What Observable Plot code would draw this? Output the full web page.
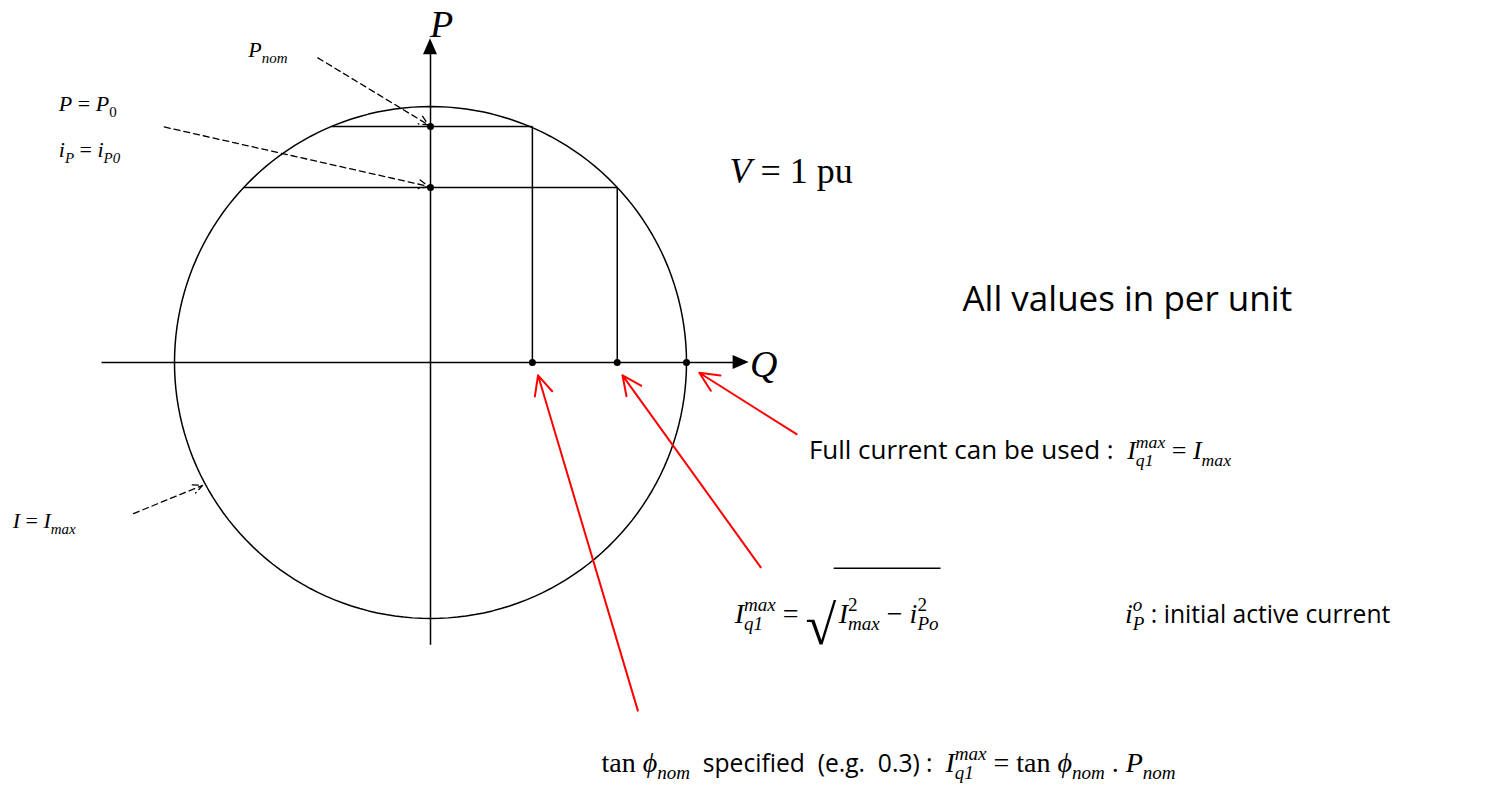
<!DOCTYPE html>
<html><head><meta charset="utf-8">
<script src="https://cdn.jsdelivr.net/npm/d3@7"></script>
<script src="https://cdn.jsdelivr.net/npm/@observablehq/plot@0.6"></script>
<style>body{margin:0;background:#fff}</style>
</head><body>
<script>
// values in per unit (Imax = 1)
const Pnom = 0.922, P0 = 0.684;
const Qnom = 0.398;            // tan phi_nom * Pnom
const Q0 = Math.sqrt(1 - P0*P0); // sqrt(Imax^2 - iP0^2)
const Imax = 1;
const circleAngles = d3.range(0, 361, 2);
const dots = [[0,Pnom],[0,P0],[Qnom,0],[Q0,0],[Imax,0]];
// label anchor points (data units)
const dashArrows = [[-0.44,1.19,-0.008,0.928],[-1.04,0.92,-0.008,0.688],[-1.16,-0.59,-0.89,-0.48]];
const redArrows = [[1.43,-0.28,1.05,-0.04],[1.29,-0.80,0.75,-0.05],[0.81,-1.36,0.42,-0.05]];
const S = 256;
const x0 = 430, y0 = 362;
const plot = Plot.plot({
  width:1490, height:803, margin:0,
  x:{domain:[-x0/S,(1490-x0)/S], axis:null},
  y:{domain:[-(803-y0)/S, y0/S], axis:null},
  marks:[
    Plot.line(circleAngles,{x:a=>Imax*Math.cos(a*Math.PI/180), y:a=>Imax*Math.sin(a*Math.PI/180), stroke:"black", strokeWidth:1.5}),
    Plot.link([[-1.285,0,1.19,0],[0,-1.103,0,1.21]],{x1:d=>d[0],y1:d=>d[1],x2:d=>d[2],y2:d=>d[3],stroke:"black",strokeWidth:1.5}),
    Plot.link([[-Math.sqrt(1-Pnom*Pnom),Pnom,Qnom,Pnom],[Qnom,Pnom,Qnom,0],[-Q0,P0,Q0,P0],[Q0,P0,Q0,0]],
      {x1:d=>d[0],y1:d=>d[1],x2:d=>d[2],y2:d=>d[3],stroke:"black",strokeWidth:1.5}),
    Plot.dot(dots,{x:d=>d[0],y:d=>d[1],r:3.5,fill:"black"}),
    Plot.arrow(dashArrows,{x1:d=>d[0],y1:d=>d[1],x2:d=>d[2],y2:d=>d[3],stroke:"black",strokeWidth:1.3,strokeDasharray:"6,4",headLength:12,headAngle:50}),
    Plot.arrow(redArrows,{x1:d=>d[0],y1:d=>d[1],x2:d=>d[2],y2:d=>d[3],stroke:"red",strokeWidth:2,headLength:16,headAngle:50})
  ]
});
document.body.appendChild(plot);
const sx = plot.scale("x").apply, sy = plot.scale("y").apply;
const svg = d3.select(plot);
const heads = [[1.19,0,"r"],[0,1.21,"u"]];
heads.forEach(([qx,py,dir])=>{
  const X=sx(qx),Y=sy(py);
  const pts = dir==="r"?[[X+14,Y],[X-2,Y-7],[X-2,Y+7]]:[[X,Y-14],[X-7,Y+2],[X+7,Y+2]];
  svg.append("polygon").attr("points",pts.map(p=>p.join(",")).join(" ")).attr("fill","black");
});
const SERIF="'Liberation Serif','DejaVu Serif',serif", SANS="'Open Sans','Liberation Sans',sans-serif";
function rich(qx,py,size,pieces){
  let x=sx(qx), y=sy(py), lastX=x;
  const g=svg.append("g").attr("text-anchor","start");
  pieces.forEach(p=>{
    const fs = p.pos? size*0.68 : size*(p.scale||1);
    const dy = p.pos==="sup"? -size*0.42 : p.pos==="sub"? size*0.25 : 0;
    const px = p.stack? lastX : x;
    const t=g.append("text").attr("x",px).attr("y",y+dy).attr("font-size",fs)
      .attr("text-anchor","start")
      .attr("font-family",p.sans?SANS:SERIF).attr("font-style",p.it?"italic":"normal")
      .style("white-space","pre").text(p.t);
    const w=t.node().getComputedTextLength();
    if(p.stack){ x=Math.max(x,px+w); }
    else { lastX=x; x=x+w; }
  });
  return x;
}
const Iq1 = [{t:"I",it:true},{t:"max",it:true,pos:"sup"},{t:"q1",it:true,pos:"sub",stack:true}];
rich(0.0,1.27,38,[{t:"P",it:true}]);
rich(1.25,-0.06,38,[{t:"Q",it:true}]);
rich(1.17,0.7,36,[{t:"V",it:true},{t:" = 1 pu"}]);
rich(-0.71,1.19,22,[{t:"P",it:true},{t:"nom",it:true,pos:"sub"}]);
rich(-1.45,0.98,22,[{t:"P",it:true},{t:" = "},{t:"P",it:true},{t:"0",pos:"sub"}]);
rich(-1.45,0.8,22,[{t:"i",it:true},{t:"P",it:true,pos:"sub"},{t:" = "},{t:"i",it:true},{t:"P0",it:true,pos:"sub"}]);
rich(-1.63,-0.65,22,[{t:"I",it:true},{t:" = "},{t:"I",it:true},{t:"max",it:true,pos:"sub"}]);
rich(2.08,0.2,35,[{t:"All values in per unit",sans:true}]);
rich(1.48,-0.38,26,[{t:"Full current can be used :  ",sans:true},...Iq1,{t:" = "},{t:"I",it:true},{t:"max",it:true,pos:"sub"}]);
const ex = rich(1.19,-1.02,28,[...Iq1,{t:" = "}]);
const sqx=(ex-x0)/S;
svg.append("text").attr("text-anchor","start").attr("x",sx(sqx)).attr("y",sy(-1.1)).attr("font-size",56).attr("font-family",SERIF).text("√");
const after = rich(sqx+0.13,-1.02,28,[{t:"I",it:true},{t:"2",pos:"sup"},{t:"max",it:true,pos:"sub",stack:true},{t:" − "},{t:"i",it:true},{t:"2",pos:"sup"},{t:"Po",it:true,pos:"sub",stack:true}]);
svg.append("line").attr("x1",sx(sqx+0.11)).attr("x2",after+2).attr("y1",sy(-0.806)).attr("y2",sy(-0.806)).attr("stroke","black").attr("stroke-width",1.5);
rich(2.715,-1.02,28,[{t:"i",it:true},{t:"o",it:true,pos:"sup"},{t:"P",it:true,pos:"sub",stack:true},{t:" : initial active current",sans:true,scale:0.88}]);
rich(0.67,-1.6,28,[{t:"tan "},{t:"ϕ",it:true},{t:"nom",it:true,pos:"sub"},{t:"  specified  (e.g.  0.3) :  ",sans:true,scale:0.88},...Iq1,{t:" = tan "},{t:"ϕ",it:true},{t:"nom",it:true,pos:"sub"},{t:" . "},{t:"P",it:true},{t:"nom",it:true,pos:"sub"}]);
</script>
</body></html>
